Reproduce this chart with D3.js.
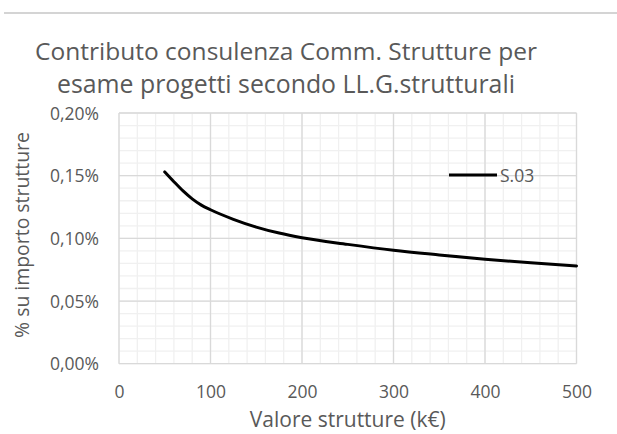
<!DOCTYPE html>
<html>
<head>
<meta charset="utf-8">
<script src="https://cdn.jsdelivr.net/npm/d3@7"></script>
<style>
  html, body { margin: 0; padding: 0; background: #fff; }
  svg { display: block; font-family: "Open Sans", sans-serif; }
</style>
</head>
<body>
<svg id="chart" width="617" height="434"></svg>
<script>
// ---- Data ----
const titleLines = ["Contributo consulenza Comm. Strutture per", "esame progetti secondo LL.G.strutturali"];
const xTitle = "Valore strutture (k€)";
const yTitle = "% su importo strutture";
const seriesName = "S.03";
const xValues = [50, 60, 70, 80, 90, 100, 125, 150, 175, 200, 250, 300, 350, 400, 450, 500];
const yValues = [0.153, 0.1452, 0.1378, 0.1315, 0.1265, 0.1228, 0.1152, 0.109, 0.1042, 0.1005, 0.0952, 0.0905, 0.0868, 0.0834, 0.0805, 0.078];
const xTicks = [0, 100, 200, 300, 400, 500];
const yTicks = [0, 0.05, 0.10, 0.15, 0.20];

// ---- Layout ----
const svg = d3.select("#chart");
const pL = 119, pR = 576.5, pT = 113, pB = 363.7;
const textColor = "#595959";
const font = "'Open Sans', sans-serif";

const x = d3.scaleLinear().domain([0, 500]).range([pL, pR]);
const y = d3.scaleLinear().domain([0, 0.20]).range([pB, pT]);

function fitFont(sel, targetWidth) {
  const w = sel.node().getComputedTextLength();
  const fs = parseFloat(sel.attr("font-size"));
  if (w > 0) sel.attr("font-size", fs * targetWidth / w);
}

// top separator line
svg.append("line").attr("x1", 4).attr("x2", 617).attr("y1", 13).attr("y2", 13)
  .attr("stroke", "#d4d4d4").attr("stroke-width", 2);

// minor grid
const xMinor = d3.range(0, 501, 20);
const yMinor = d3.range(0, 21).map(d => d / 100);
const grid = svg.append("g");
grid.selectAll(".xm").data(xMinor).enter().append("line")
  .attr("x1", d => x(d)).attr("x2", d => x(d)).attr("y1", pT).attr("y2", pB)
  .attr("stroke", "#f0f0f0").attr("stroke-width", 1.3);
grid.selectAll(".ym").data(yMinor).enter().append("line")
  .attr("y1", d => y(d)).attr("y2", d => y(d)).attr("x1", pL).attr("x2", pR)
  .attr("stroke", "#f0f0f0").attr("stroke-width", 1.3);
// major grid
grid.selectAll(".xM").data(xTicks).enter().append("line")
  .attr("x1", d => x(d)).attr("x2", d => x(d)).attr("y1", pT).attr("y2", pB)
  .attr("stroke", "#d9d9d9").attr("stroke-width", 1.3);
grid.selectAll(".yM").data(yTicks).enter().append("line")
  .attr("y1", d => y(d)).attr("y2", d => y(d)).attr("x1", pL).attr("x2", pR)
  .attr("stroke", "#d9d9d9").attr("stroke-width", 1.3);

// axes (labels only)
const fmtPct = d => d3.format(".2f")(d).replace(".", ",") + "%";
const yAxis = d3.axisLeft(y).tickValues(yTicks).tickFormat(fmtPct).tickSize(0).tickPadding(20);
const gy = svg.append("g").attr("transform", `translate(${pL},0)`).call(yAxis);
gy.select(".domain").remove();
gy.selectAll("text").attr("fill", textColor).attr("font-size", 17.5).attr("font-family", font).attr("dy", "0.35em");

const xAxis = d3.axisBottom(x).tickValues(xTicks).tickFormat(d3.format("d")).tickSize(0).tickPadding(0);
const gx = svg.append("g").attr("transform", `translate(0,${pB})`).call(xAxis);
gx.select(".domain").remove();
gx.selectAll("text").attr("fill", textColor).attr("font-size", 17.5).attr("font-family", font)
  .attr("dy", null).attr("y", 34);

// line
const data = xValues.map((v, i) => [v, yValues[i]]);
const line = d3.line().x(d => x(d[0])).y(d => y(d[1])).curve(d3.curveMonotoneX);
svg.append("path").datum(data).attr("d", line)
  .attr("fill", "none").attr("stroke", "#000").attr("stroke-width", 3).attr("stroke-linecap", "round");

// legend
svg.append("line").attr("x1", 449).attr("x2", 497).attr("y1", 175).attr("y2", 175)
  .attr("stroke", "#000").attr("stroke-width", 3);
svg.append("text").attr("x", 500).attr("y", 181.5).text(seriesName)
  .attr("fill", textColor).attr("font-size", 17.5);

// title
const titleTargets = [502, 458];
const titleBase = [60, 93];
titleLines.forEach((t, i) => {
  const tx = svg.append("text").attr("x", 286).attr("y", titleBase[i]).attr("text-anchor", "middle")
    .attr("fill", textColor).attr("font-size", 22).text(t);
  fitFont(tx, titleTargets[i]);
});

// axis titles
const xt = svg.append("text").attr("x", (pL + pR) / 2).attr("y", 427).attr("text-anchor", "middle")
  .attr("fill", textColor).attr("font-size", 18).text(xTitle);
fitFont(xt, 196);
const yt = svg.append("text").attr("transform", "translate(29,235) rotate(-90)").attr("text-anchor", "middle")
  .attr("fill", textColor).attr("font-size", 18).text(yTitle);
fitFont(yt, 206);
</script>
</body>
</html>
